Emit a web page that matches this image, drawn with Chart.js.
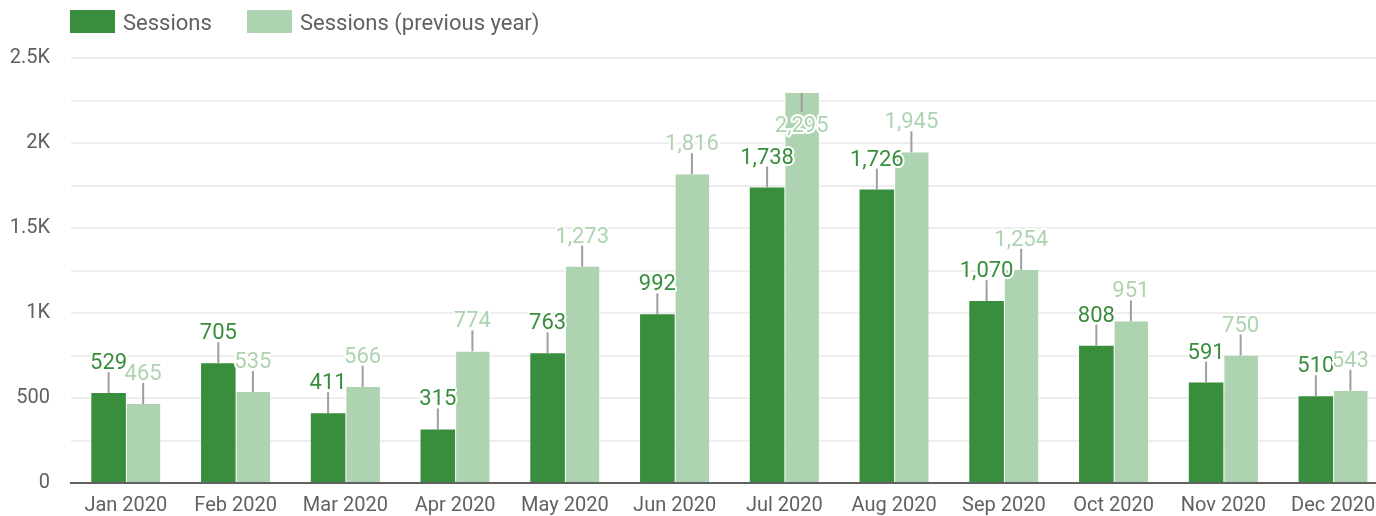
<!DOCTYPE html>
<html>
<head>
<meta charset="utf-8">
<script src="https://cdn.jsdelivr.net/npm/chart.js@4/dist/chart.umd.min.js"></script>
<style>
  html, body { margin: 0; padding: 0; background: #fff; overflow: hidden; width: 1376px; height: 516px; }
  #wrap { position: relative; width: 1376px; height: 516px; overflow: hidden; }
  canvas { position: absolute; left: 0; top: 0; }
  .box { position: absolute; top: 10px; width: 45px; height: 23px; }
  .lbl { position: absolute; top: 10px; line-height: 23px; font: 22px Roboto, sans-serif; color: #616161; white-space: nowrap; }
</style>
</head>
<body>
<div id="wrap">
  <canvas id="c" width="1388" height="516"></canvas>
  <span class="box" style="left:70px;background:#388e3c"></span>
  <span class="lbl" style="left:123px">Sessions</span>
  <span class="box" style="left:247px;background:#aed3b1"></span>
  <span class="lbl" style="left:300px">Sessions (previous year)</span>
</div>
<script>
const months = ["Jan 2020","Feb 2020","Mar 2020","Apr 2020","May 2020","Jun 2020","Jul 2020","Aug 2020","Sep 2020","Oct 2020","Nov 2020","Dec 2020"];
const sessions = [529, 705, 411, 315, 763, 992, 1738, 1726, 1070, 808, 591, 510];
const sessionsPrev = [465, 535, 566, 774, 1273, 1816, 2295, 1945, 1254, 951, 750, 543];

const dark = "#388e3c";
const light = "#aed3b1";
const txtGray = "#616161";

// labels above bars with a small grey leader line
const leaderLabels = {
  id: "leaderLabels",
  afterDatasetsDraw(chart) {
    const ctx = chart.ctx;
    const top = chart.chartArea.top;
    ctx.save();
    ctx.font = "22px Roboto";
    ctx.textAlign = "center";
    ctx.textBaseline = "alphabetic";
    chart.data.datasets.forEach((ds, di) => {
      const meta = chart.getDatasetMeta(di);
      meta.data.forEach((bar, i) => {
        const v = ds.data[i];
        const x = bar.x, y = bar.y;
        const flip = (y - 21 - 3 - 15) < top;
        const y2 = flip ? y + 19 : y - 21;
        ctx.strokeStyle = "#9e9e9e";
        ctx.lineWidth = 2;
        ctx.beginPath();
        ctx.moveTo(x, y);
        ctx.lineTo(x, y2);
        ctx.stroke();
        const t = v.toLocaleString("en-US");
        const ty = flip ? y2 + 20 : y2 - 3;
        ctx.lineWidth = 4;
        ctx.lineJoin = "round";
        ctx.strokeStyle = "#fff";
        ctx.strokeText(t, x, ty);
        ctx.fillStyle = ds.labelColor;
        ctx.fillText(t, x, ty);
      });
    });
    ctx.restore();
  }
};

var chart = new Chart(document.getElementById("c"), {
  type: "bar",
  data: {
    labels: months,
    datasets: [{
      label: "Sessions",
      data: sessions,
      backgroundColor: dark,
      labelColor: dark,
      borderWidth: 0,
      categoryPercentage: 0.63,
      barPercentage: 1
    }, {
      label: "Sessions (previous year)",
      data: sessionsPrev,
      backgroundColor: light,
      labelColor: light,
      borderColor: "#fff",
      borderWidth: { left: 1, right: 0, top: 0, bottom: 0 },
      borderSkipped: false,
      categoryPercentage: 0.63,
      barPercentage: 1
    }]
  },
  options: {
    responsive: false,
    animation: false,
    layout: { padding: { top: 58, left: 0, right: 0, bottom: 0 } },
    plugins: {
      legend: { display: false },
      tooltip: { enabled: false }
    },
    scales: {
      x: {
        grid: { display: false },
        border: { display: true, color: txtGray, width: 2 },
        ticks: { color: txtGray, font: { family: "Roboto", size: 20 }, padding: 3, maxRotation: 0 },
        afterFit(s) { s.height = 33; }
      },
      y: {
        min: 0,
        max: 2500,
        border: { display: false },
        grid: {
          drawTicks: false,
          lineWidth: 2,
          color: (c) => c.tick && c.tick.value === 0 ? "rgba(0,0,0,0)" : "#eeeeee"
        },
        ticks: {
          stepSize: 250,
          padding: 21,
          color: txtGray,
          font: { family: "Roboto", size: 20 },
          callback: (v) => {
            if (v % 500 !== 0) return "";
            return v >= 1000 ? (v / 1000) + "K" : String(v);
          }
        },
        afterFit(s) { s.width = 71; }
      }
    }
  },
  plugins: [leaderLabels]
});
</script>
</body>
</html>
